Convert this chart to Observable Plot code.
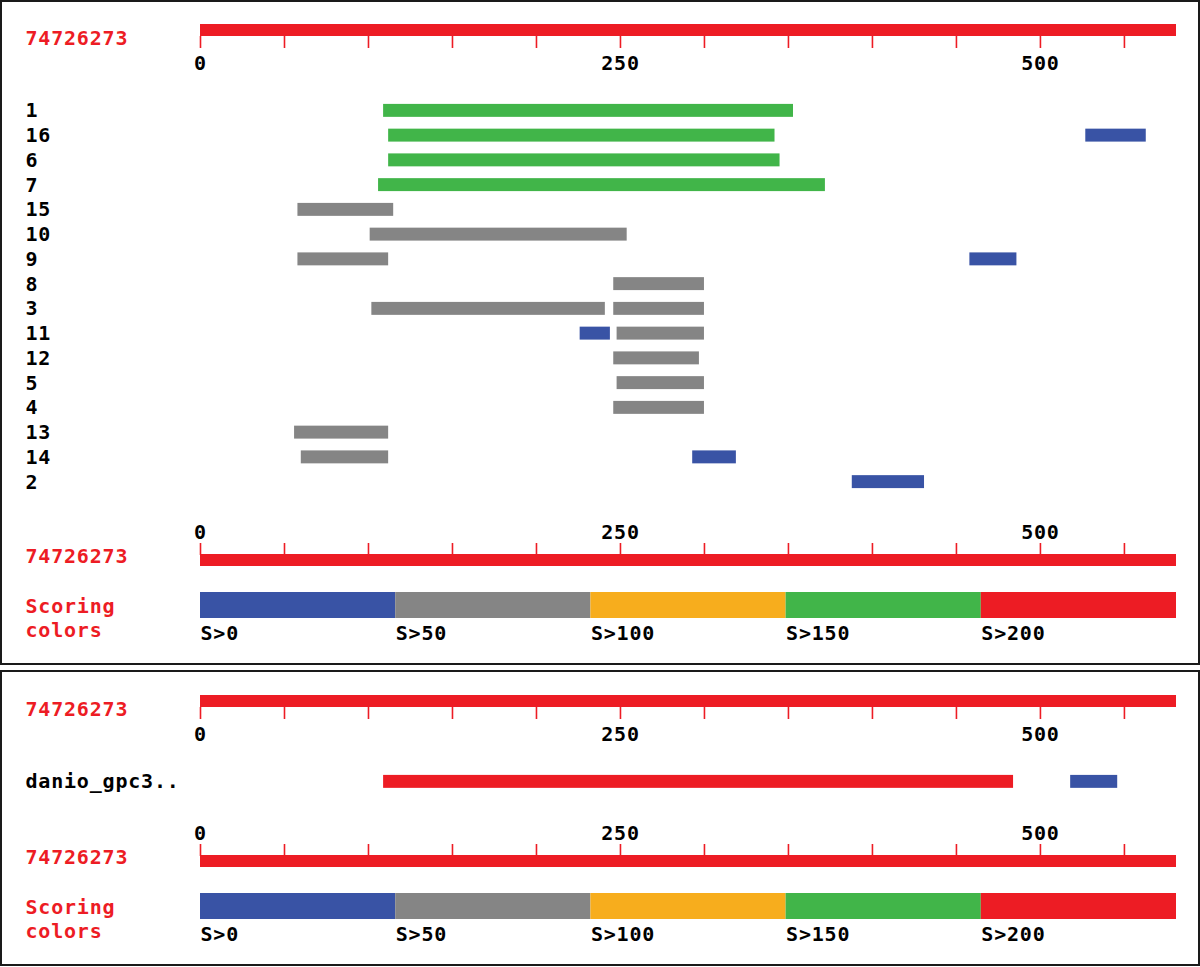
<!DOCTYPE html>
<html><head><meta charset="utf-8">
<script src="https://cdn.jsdelivr.net/npm/d3@7"></script>
<script src="https://cdn.jsdelivr.net/npm/@observablehq/plot@0.6"></script>
<style>
html,body{margin:0;padding:0;background:#fff;}
#root{position:relative;width:1200px;height:967px;overflow:hidden;background:#fff;}
.panel{position:absolute;left:0;width:1200px;box-sizing:border-box;border:2px solid #1a1a1a;pointer-events:none;}
.piece{position:absolute;left:0;display:block;}
</style></head><body><div id="root"></div>
<script>
// ---------- data ----------
const queryName = "74726273";
const seqLength = 581;
const rulerTicks = [0, 50, 100, 150, 200, 250, 300, 350, 400, 450, 500, 550];
const rulerLabels = [0, 250, 500];
const scoreBins = ["S>0", "S>50", "S>100", "S>150", "S>200"];
const scoreColors = ["#3953a5", "#858585", "#f7ad1d", "#41b549", "#ed1c24"];
const legendTitle = ["Scoring", "colors"];

// panel 1 : hit list
const rows1 = ["1", "16", "6", "7", "15", "10", "9", "8", "3", "11", "12", "5", "4", "13", "14", "2"];
const hitRow1   = ["1", "16", "16", "6", "7", "15", "10", "9", "9", "8", "3", "3", "11", "11", "12", "5", "4", "13", "14", "14", "2"];
const hitStart1 = [109, 112, 527, 112, 106, 58, 101, 58, 458, 246, 102, 246, 226, 248, 246, 248, 246, 56, 60, 293, 388];
const hitEnd1   = [353, 342, 563, 345, 372, 115, 254, 112, 486, 300, 241, 300, 244, 300, 297, 300, 300, 112, 112, 319, 431];
const hitBin1   = ["S>150", "S>150", "S>0", "S>150", "S>150", "S>50", "S>50", "S>50", "S>0", "S>50", "S>50", "S>50", "S>0", "S>50", "S>50", "S>50", "S>50", "S>50", "S>50", "S>0", "S>0"];

// panel 2 : single subject
const rows2 = ["danio_gpc3.."];
const hitRow2   = ["danio_gpc3..", "danio_gpc3.."];
const hitStart2 = [109, 518];
const hitEnd2   = [484, 546];
const hitBin2   = ["S>200", "S>0"];

// ---------- layout ----------
const RED = "#ed1c24";
const W = 1200, ML = 200, MR = 24;
const ROW_STEP = 24.75;
const FONT = {fontFamily: "'DejaVu Sans Mono', monospace", fontSize: "20px", fontWeight: "bold",
              letterSpacing: "0.8px", background: "transparent", overflow: "visible", color: "#000"};
const root = document.getElementById("root");

function place(el, top) { el.classList.add("piece"); el.style.top = top + "px"; root.appendChild(el); }
const buildHits = (r, s, e, b) => r.map((row, i) => ({row, start: s[i], end: e[i], bin: b[i]}));
const fmtTick = d => rulerLabels.includes(d) ? String(d) : "";

function topRuler(top) {
  place(Plot.plot({
    width: W, height: 80, marginLeft: ML, marginRight: MR, marginTop: 24, marginBottom: 44,
    style: FONT, x: {domain: [0, seqLength]},
    marks: [
      Plot.barX([{start: 0, end: seqLength}], {x1: "start", x2: "end", fill: RED}),
      Plot.axisX({anchor: "bottom", ticks: rulerTicks, tickSize: 12, tickPadding: 7, stroke: RED, strokeWidth: 1.6,
                  fill: "#000", tickFormat: fmtTick, label: null}),
      Plot.text([queryName], {text: d => d, frameAnchor: "left", textAnchor: "start", dx: -175, dy: 8, fill: RED})
    ]
  }), top);
}

function bottomRuler(top) {
  place(Plot.plot({
    width: W, height: 60, marginLeft: ML, marginRight: MR, marginTop: 44, marginBottom: 4,
    style: FONT, x: {domain: [0, seqLength]},
    marks: [
      Plot.barX([{start: 0, end: seqLength}], {x1: "start", x2: "end", fill: RED}),
      Plot.axisX({anchor: "top", ticks: rulerTicks, tickSize: 12, tickPadding: 4, stroke: RED, strokeWidth: 1.6,
                  fill: "#000", tickFormat: fmtTick, label: null}),
      Plot.text([queryName], {text: d => d, frameAnchor: "left", textAnchor: "start", dx: -175, dy: -4, fill: RED})
    ]
  }), top);
}

function hitsPlot(top, rows, hits) {
  place(Plot.plot({
    width: W, height: rows.length * ROW_STEP, marginLeft: ML, marginRight: MR, marginTop: 0, marginBottom: 0,
    style: FONT,
    x: {domain: [0, seqLength], axis: null},
    y: {domain: rows, padding: 0, round: false},
    color: {domain: scoreBins, range: scoreColors},
    marks: [
      Plot.barX(hits, {y: "row", x1: "start", x2: "end", fill: "bin", insetTop: 5.9, insetBottom: 5.9}),
      Plot.axisY({tickSize: 0, tickPadding: 0, textAnchor: "start", dx: -175, fill: "#000", label: null})
    ]
  }), top);
}

function legend(top) {
  const band = (W - ML - MR) / scoreBins.length;
  place(Plot.plot({
    width: W, height: 60, marginLeft: ML, marginRight: MR, marginTop: 7, marginBottom: 27,
    style: FONT,
    x: {type: "band", domain: scoreBins, padding: 0, round: false},
    color: {domain: scoreBins, range: scoreColors},
    marks: [
      Plot.cell(scoreBins, {x: d => d, fill: d => d}),
      Plot.axisX({anchor: "bottom", tickSize: 0, tickPadding: 7, textAnchor: "start", dx: -band / 2, fill: "#000", label: null}),
      Plot.text([legendTitle.join("\n")], {text: d => d, frameAnchor: "left", textAnchor: "start", dx: -175, dy: 12,
                                           lineHeight: 1.2, fill: RED})
    ]
  }), top);
}

function panelBox(top, height) {
  const d = document.createElement("div");
  d.className = "panel"; d.style.top = top + "px"; d.style.height = height + "px";
  root.appendChild(d);
}

// panel 1
topRuler(0);
hitsPlot(98, rows1, buildHits(hitRow1, hitStart1, hitEnd1, hitBin1));
bottomRuler(510);
legend(585);
panelBox(0, 665);

// panel 2
topRuler(671);
hitsPlot(769, rows2, buildHits(hitRow2, hitStart2, hitEnd2, hitBin2));
bottomRuler(811);
legend(886);
panelBox(670, 296);
</script></body></html>
